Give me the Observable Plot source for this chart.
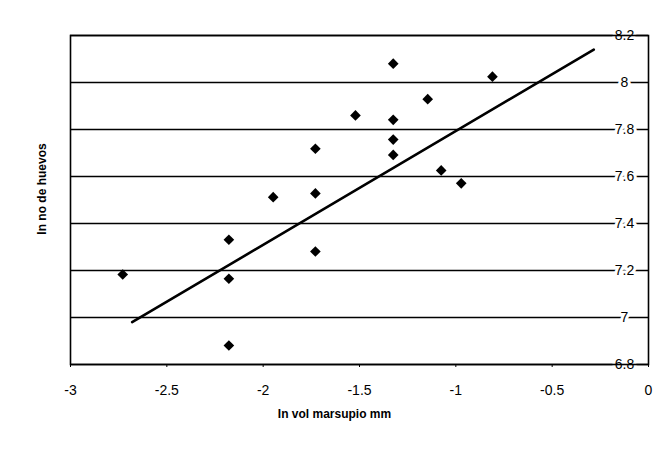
<!DOCTYPE html>
<html>
<head>
<meta charset="utf-8">
<script src="https://cdn.jsdelivr.net/npm/d3@7"></script>
<script src="https://cdn.jsdelivr.net/npm/@observablehq/plot@0.6"></script>
<style>
  html, body { margin: 0; padding: 0; background: #fff; }
  #chart svg { display: block; }
</style>
</head>
<body>
<div id="chart"></div>
<script>
// ln vol marsupio (mm) vs ln no de huevos
const lnVol = [-1.325, -0.81, -1.146, -1.521, -1.325, -1.325, -1.729, -1.325, -1.076, -0.972, -1.729, -1.948, -2.178, -2.729, -2.178, -2.178, -1.729];
const lnHuevos = [8.08, 8.025, 7.929, 7.86, 7.841, 7.757, 7.718, 7.692, 7.626, 7.571, 7.528, 7.512, 7.331, 7.183, 7.165, 6.881, 7.281];

// fitted trend line end points as drawn
const trendX = [-2.68, -0.284];
const trendY = [6.98, 8.14];

const xTicks = [-3, -2.5, -2, -1.5, -1, -0.5, 0];
const yTicks = [6.8, 7, 7.2, 7.4, 7.6, 7.8, 8, 8.2];

const xTitle = "In vol marsupio mm";
const yTitle = "In no de huevos";

const points = lnVol.map((x, i) => ({x, y: lnHuevos[i]}));
const trend = trendX.map((x, i) => ({x, y: trendY[i]}));

const font = "'Liberation Sans', Arial, Helvetica, sans-serif";

const chart = Plot.plot({
  width: 672,
  height: 451,
  marginLeft: 70,
  marginRight: 24,
  marginTop: 35,
  marginBottom: 87,
  style: {fontFamily: font, fontSize: "14px", color: "#000", background: "#fff"},
  x: {domain: [-3, 0], ticks: xTicks},
  y: {domain: [6.8, 8.2], axis: null},
  marks: [
    Plot.ruleY(yTicks, {stroke: "#000", strokeWidth: 1.4}),
    Plot.text(yTicks, {
      y: d => d,
      frameAnchor: "right",
      dx: -24,
      textAnchor: "middle",
      text: d => String(d),
      fontSize: 14,
      fill: "#000",
      stroke: "#fff",
      strokeWidth: 6
    }),
    Plot.axisX(xTicks, {
      tickSize: 3,
      tickPadding: 18,
      tickFormat: d => String(d),
      fontSize: 14,
      label: null
    }),
    Plot.frame({stroke: "#000", strokeWidth: 1.6}),
    Plot.line(trend, {x: "x", y: "y", stroke: "#000", strokeWidth: 2.6}),
    Plot.dot(points, {x: "x", y: "y", symbol: "diamond2", r: 4.8, fill: "#000", stroke: "none"}),
    Plot.text([xTitle], {
      frameAnchor: "bottom",
      dx: -25,
      dy: 50,
      textAnchor: "middle",
      lineAnchor: "middle",
      text: d => d,
      fontSize: 12,
      fontWeight: "bold",
      fill: "#000"
    }),
    Plot.text([yTitle], {
      frameAnchor: "left",
      dx: -28,
      dy: -11,
      rotate: -90,
      textAnchor: "middle",
      lineAnchor: "middle",
      text: d => d,
      fontSize: 12,
      fontWeight: "bold",
      fill: "#000"
    })
  ]
});

document.getElementById("chart").appendChild(chart);
</script>
</body>
</html>
